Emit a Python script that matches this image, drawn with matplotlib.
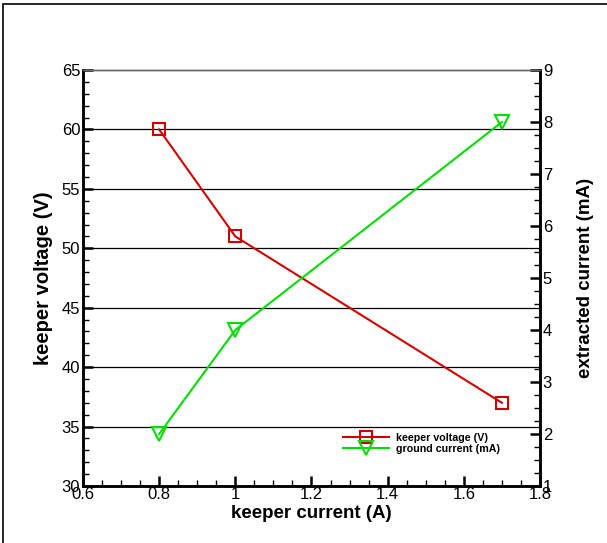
import matplotlib.pyplot as plt
from matplotlib.patches import Rectangle
from matplotlib.ticker import MultipleLocator

plt.rcParams["font.family"] = ["Liberation Sans", "DejaVu Sans"]

keeper_current = [0.8, 1.0, 1.7]
keeper_voltage = [60, 51, 37]
ground_current = [2, 4, 8]

fig = plt.figure(figsize=(6.07, 5.43), dpi=100)
fig.patches.append(Rectangle((0.005, -0.1), 1.2, 1.093, transform=fig.transFigure,
                             fill=False, edgecolor="black", linewidth=1.2))

ax = fig.add_axes([0.1367, 0.105, 0.7529, 0.766])
ax2 = ax.twinx()

ax.set_xlim(0.6, 1.8)
ax.set_ylim(30, 65)
ax2.set_ylim(1, 9)

for y in range(35, 65, 5):
    ax.axhline(y, color="black", linewidth=0.9, zorder=1)

ax.plot(keeper_current, keeper_voltage, color="#d00000", linewidth=1.5,
        marker="s", markersize=9, markerfacecolor="none", markeredgewidth=1.5,
        label="keeper voltage (V)", zorder=3)
ax2.plot(keeper_current, ground_current, color="#00dd00", linewidth=1.5,
         marker="v", markersize=10, markerfacecolor="none", markeredgewidth=1.5,
         label="ground current (mA)", zorder=3)

ax.xaxis.set_major_locator(MultipleLocator(0.2))
ax.xaxis.set_minor_locator(MultipleLocator(0.05))
ax.yaxis.set_major_locator(MultipleLocator(5))
ax.yaxis.set_minor_locator(MultipleLocator(1))
ax2.yaxis.set_major_locator(MultipleLocator(1))
ax2.yaxis.set_minor_locator(MultipleLocator(0.25))
ax.set_xticks([0.6, 0.8, 1.0, 1.2, 1.4, 1.6, 1.8])
ax.set_xticklabels(["0.6", "0.8", "1", "1.2", "1.4", "1.6", "1.8"])

for a in (ax, ax2):
    for s in a.spines.values():
        s.set_linewidth(1.8)
    a.spines["top"].set_linewidth(1.0)
    a.spines["top"].set_color("#666666")
    a.tick_params(which="major", direction="in", length=7, width=1.8,
                  labelsize=12, pad=2)
    a.tick_params(which="minor", direction="in", length=4, width=1.0)
ax.tick_params(axis="x", which="both", top=False)
ax.tick_params(axis="x", pad=1)

ax.set_xlabel("keeper current (A)", fontsize=13.5, fontweight="bold", labelpad=2)
ax.set_ylabel("keeper voltage (V)", fontsize=14.5, fontweight="bold", labelpad=6)
ax2.set_ylabel("extracted current (mA)", fontsize=13.5, fontweight="bold", labelpad=18)

h1, l1 = ax.get_legend_handles_labels()
h2, l2 = ax2.get_legend_handles_labels()
leg = ax2.legend(h1 + h2, l1 + l2, loc="upper left", bbox_to_anchor=(0.56, 0.138),
                 frameon=False, prop={"size": 7.7, "weight": "bold"},
                 handlelength=4.3, handletextpad=0.6, labelspacing=0.1,
                 borderaxespad=0)

fig.savefig("out.png", dpi=100)
